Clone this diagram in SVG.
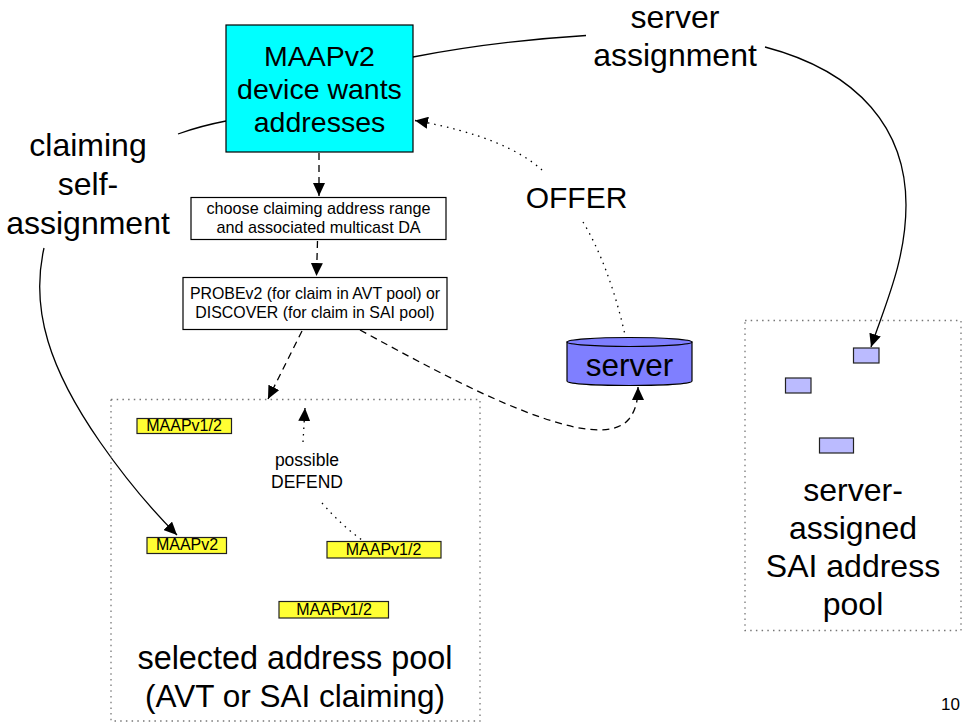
<svg xmlns="http://www.w3.org/2000/svg" width="962" height="723" viewBox="0 0 962 723">
<style>
text{font-family:"Liberation Sans",Arial,sans-serif;fill:#000;text-anchor:middle}
.l{font-size:32px}.m{font-size:28.5px}.s{font-size:15.9px}.y{font-size:16px}.d{font-size:17.5px}.p{font-size:17px}
.box{stroke:#000;stroke-width:1.2}
.pool{fill:none;stroke:#777;stroke-width:1.3;stroke-dasharray:1.5 4.2}
.mem{stroke:#222;stroke-width:1.2}
.c{fill:none;stroke:#000;stroke-width:1.3}
.dash{stroke-dasharray:7 5}
.dot{stroke-dasharray:1.5 5}
</style>
<defs>
<marker id="a" markerUnits="userSpaceOnUse" markerWidth="14" markerHeight="12" refX="13" refY="6" orient="auto"><path d="M0 0L13 6L0 12Z" fill="#000"/></marker>
</defs>
<g id="connectors">
<path class="c" d="M413 57C470 46 530 39 586 35.500"/>
<path class="c" marker-end="url(#a)" d="M765 47C860 72 906 130 906 205C906 260 885 305 871 347"/>
<path class="c" d="M178 134Q200 126 226 121"/>
<path class="c" marker-end="url(#a)" d="M44 248C30 310 50 370 100 442C125 478 150 508 177 535"/>
<path class="c dash" marker-end="url(#a)" d="M319 153V196"/>
<path class="c dash" marker-end="url(#a)" d="M317.500 241L316.500 276"/>
<path class="c dash" marker-end="url(#a)" d="M302 331L268 399"/>
<path class="c dash" marker-end="url(#a)" d="M360 330C430 368 490 400 543 418C580 431 615 436 629 419C636 410 638 400 638 387"/>
<path class="c dot" marker-end="url(#a)" d="M542 170C520 150 480 132 415 120.500"/>
<path class="c dot" d="M583 222C600 250 615 290 625 335"/>
<path class="c dot" marker-end="url(#a)" d="M303 442L305 408"/>
<path class="c dot" d="M322 503C335 518 348 530 362 540"/>
</g>
<g id="device"><rect class="box" x="226" y="25" width="187" height="127" fill="#00ffff"/>
<text class="m" x="319.500" y="66">MAAPv2</text><text class="m" x="319.500" y="99">device wants</text><text class="m" x="319.500" y="132">addresses</text></g>
<g id="choose"><rect class="box" x="191" y="197.500" width="255" height="42" fill="#fff"/>
<text class="s" x="318.500" y="214" style="font-size:16.200px">choose claiming address range</text><text class="s" x="318.500" y="233" style="font-size:16.200px">and associated multicast DA</text></g>
<g id="probe"><rect class="box" x="183" y="277.500" width="264" height="52" fill="#fff"/>
<text class="s" x="315" y="299">PROBEv2 (for claim in AVT pool) or</text><text class="s" x="315" y="318">DISCOVER (for claim in SAI pool)</text></g>
<g id="self-label"><text class="l" x="88" y="156">claiming</text><text class="l" x="88" y="195">self-</text><text class="l" x="88" y="233.500">assignment</text></g>
<g id="server-label"><text class="l" x="675" y="28">server</text><text class="l" x="675" y="66">assignment</text></g>
<g id="offer"><text class="l" x="576.500" y="208" style="font-size:30px">OFFER</text></g>
<g id="server"><path class="box" d="M567 342V381C567 387 692 387 692 381V342Z" fill="#7f7fff"/><ellipse class="box" cx="629.500" cy="342" rx="62.500" ry="4.500" fill="#7f7fff"/>
<text class="l" x="629.500" y="375.500" style="font-size:31.500px">server</text></g>
<g id="selected-pool"><rect class="pool" x="111" y="399.500" width="369" height="321.500"/>
<text class="l" x="295" y="669" style="font-size:32.400px">selected address pool</text><text class="l" x="295" y="707" style="font-size:31.500px">(AVT or SAI claiming)</text></g>
<g id="sai-pool"><rect class="pool" x="745" y="320.500" width="216" height="310"/>
<text class="l" x="853" y="501" style="font-size:32px">server-</text><text class="l" x="853" y="539" style="font-size:32px">assigned</text><text class="l" x="853" y="577" style="font-size:32px">SAI address</text><text class="l" x="853" y="615" style="font-size:32px">pool</text></g>
<g id="m1"><rect class="mem" x="137" y="418.500" width="94.500" height="15" fill="#ffff33"/><text class="y" x="184" y="431">MAAPv1/2</text></g>
<g id="m2"><rect class="mem" x="147" y="537.500" width="79.500" height="16" fill="#ffff33"/><text class="y" x="187" y="550">MAAPv2</text></g>
<g id="m3"><rect class="mem" x="327" y="541.500" width="114" height="16.500" fill="#ffff33"/><text class="y" x="383.500" y="555">MAAPv1/2</text></g>
<g id="m4"><rect class="mem" x="279" y="601.500" width="109.500" height="16.500" fill="#ffff33"/><text class="y" x="334" y="615">MAAPv1/2</text></g>
<g id="defend"><text class="d" x="307" y="466">possible</text><text class="d" x="307" y="488">DEFEND</text></g>
<g id="s1"><rect class="mem" x="853.500" y="348" width="25.500" height="15" fill="#bbbbff"/></g>
<g id="s2"><rect class="mem" x="785.500" y="378" width="25.500" height="15" fill="#bbbbff"/></g>
<g id="s3"><rect class="mem" x="819.500" y="438" width="34" height="15" fill="#bbbbff"/></g>
<g id="page"><text class="p" x="950.500" y="710">10</text></g>
</svg>
